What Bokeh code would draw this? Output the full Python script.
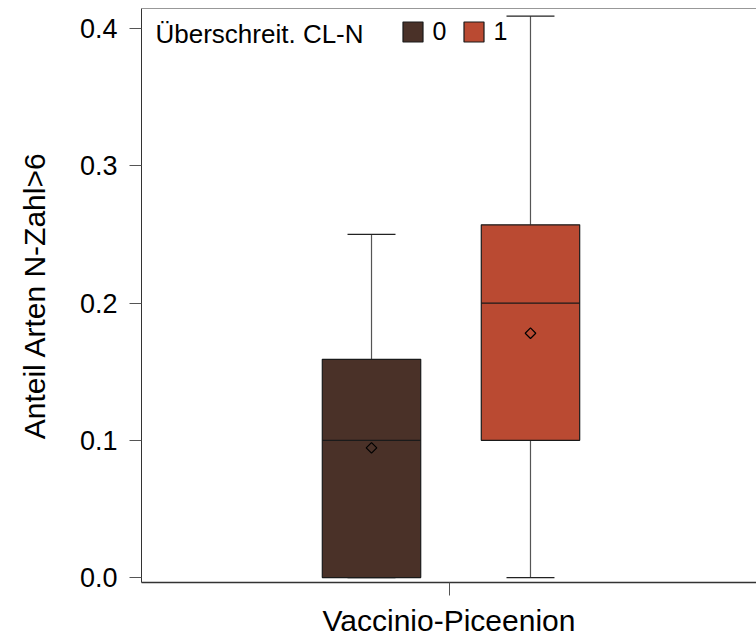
import math
from bokeh.plotting import figure
from bokeh.models import (ColumnDataSource, Range1d, FixedTicker, LinearAxis,
                          Legend, LegendItem, Span)
from bokeh.core.properties import value
from bokeh.embed import file_html
from bokeh.resources import INLINE

# ---- data ----
category = "Vaccinio-Piceenion"
legend_title = "Überschreit. CL-N"
groups = ["0", "1"]
q1 = [0.0, 0.1]
median = [0.1, 0.2]
q3 = [0.159, 0.257]
whisk_lo = [0.0, 0.0]
whisk_hi = [0.25, 0.409]
means = [0.0945, 0.178]
colors = ["#4A3128", "#BA4A32"]
y_ticks = [0.0, 0.1, 0.2, 0.3, 0.4]
y_tick_labels = ["0.0", "0.1", "0.2", "0.3", "0.4"]

# dodge layout
cat_pos = 1.0
offsets = [-0.252, 0.265]
box_w = 0.32
cap_w = 0.156

x = [cat_pos + o for o in offsets]
src = ColumnDataSource(dict(
    x=x, q1=q1, med=median, q3=q3, lo=whisk_lo, hi=whisk_hi, mean=means,
    color=colors, group=groups,
    cap_l=[v - cap_w / 2 for v in x], cap_r=[v + cap_w / 2 for v in x],
    box_l=[v - box_w / 2 for v in x], box_r=[v + box_w / 2 for v in x],
))

FONT = "Liberation Sans"
y0, y1 = -0.0036, 0.4146

p = figure(width=756, height=639, output_backend="svg", toolbar_location=None,
           x_range=Range1d(0, 2), y_range=Range1d(y0, y1),
           x_axis_location=None, y_axis_location=None,
           min_border_left=141, min_border_right=0, min_border_top=8,
           min_border_bottom=57)
p.outline_line_color = None
p.xgrid.visible = False
p.ygrid.visible = False
p.background_fill_color = "white"
p.border_fill_color = "white"

# axes
yax = LinearAxis(ticker=FixedTicker(ticks=y_ticks))
yax.major_label_overrides = {t: l for t, l in zip(y_ticks, y_tick_labels)}
yax.axis_label = "Anteil Arten N-Zahl>6"
yax.axis_label_text_font = FONT
yax.axis_label_text_font_size = "30px"
yax.axis_label_text_font_style = "normal"
yax.axis_label_text_color = "black"
yax.axis_label_standoff = 26
yax.major_label_text_font = FONT
yax.major_label_text_font_size = "27px"
yax.major_label_text_color = "black"
yax.major_label_standoff = 12
yax.major_tick_out = 12
yax.major_tick_in = 0
yax.minor_tick_out = 0
yax.minor_tick_in = 0
yax.major_tick_line_color = "#555555"
yax.axis_line_color = "#333333"
p.add_layout(yax, "left")

xax = LinearAxis(ticker=FixedTicker(ticks=[cat_pos]))
xax.major_label_overrides = {cat_pos: category}
xax.major_label_text_font = FONT
xax.major_label_text_font_size = "30px"
xax.major_label_text_color = "black"
xax.major_label_text_line_height = 1.0
xax.major_label_standoff = 8
xax.major_tick_out = 13
xax.major_tick_in = 0
xax.minor_tick_out = 0
xax.minor_tick_in = 0
xax.major_tick_line_color = "#555555"
xax.axis_line_color = "#333333"
xax.axis_line_width = 1.5
p.add_layout(xax, "below")

# top frame line
p.add_layout(Span(location=y1, dimension="width", line_color="#333333", line_width=1))

# whiskers
p.segment(x0="x", y0="q3", x1="x", y1="hi", source=src, line_color="#555555", line_width=1.2)
p.segment(x0="x", y0="lo", x1="x", y1="q1", source=src, line_color="#555555", line_width=1.2)
p.segment(x0="cap_l", y0="hi", x1="cap_r", y1="hi", source=src, line_color="#222222", line_width=1.2)
p.segment(x0="cap_l", y0="lo", x1="cap_r", y1="lo", source=src, line_color="#222222", line_width=1.2)

# boxes
boxes = p.vbar(x="x", width=box_w, bottom="q1", top="q3", source=src,
               fill_color="color", line_color="#1a1a1a", line_width=1.2)
# medians
p.segment(x0="box_l", y0="med", x1="box_r", y1="med", source=src, line_color="#1a1a1a", line_width=1.2)
# means
p.scatter(x="x", y="mean", source=src, marker="square", angle=math.pi / 4, size=7.5,
          fill_color=None, line_color="black", line_width=1.2)

# legend title (text) + legend items
p.text(x=[0], y=[y1], text=[legend_title], x_offset=14, y_offset=25,
       text_font=value(FONT), text_font_size="26px", text_color="black",
       text_baseline="alphabetic", text_align="left")

legend = Legend(items=[LegendItem(label=g, renderers=[boxes], index=i) for i, g in enumerate(groups)],
                orientation="horizontal", location=(254.5, 532))
legend.label_text_font = FONT
legend.label_text_font_size = "25px"
legend.label_text_color = "black"
legend.glyph_width = 25
legend.glyph_height = 25
legend.label_standoff = 8
legend.label_width = 15
legend.spacing = 13
legend.padding = 4
legend.margin = 0
legend.border_line_alpha = 0
legend.background_fill_alpha = 0
p.add_layout(legend, "center")

open("out.html", "w").write(file_html(p, INLINE))
